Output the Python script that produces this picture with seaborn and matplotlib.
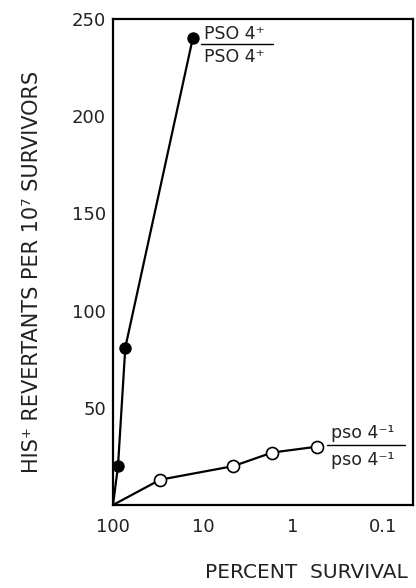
import numpy as np
import pandas as pd
import matplotlib
matplotlib.use("Agg")
import matplotlib.pyplot as plt
import seaborn as sns

# data
wt_survival = [100, 88, 73, 13]
wt_revertants = [0, 20, 81, 240]
mut_survival = [100, 30, 4.6, 1.7, 0.54]
mut_revertants = [0, 13, 20, 27, 30]
x_ticks = [100, 10, 1, 0.1]
x_ticklabels = ["100", "10", "1", "0.1"]
y_ticks = [50, 100, 150, 200, 250]

sns.set_style("white")
plt.rcParams['font.family'] = ['DejaVu Sans']

fig = plt.figure(figsize=(4.16, 5.88), dpi=100)
ax = fig.add_axes([113/416, 1-505/588, 300/416, 486/588])

wt = pd.DataFrame({"s": wt_survival, "r": wt_revertants})
mut = pd.DataFrame({"s": mut_survival, "r": mut_revertants})

sns.lineplot(data=wt, x="s", y="r", sort=False, color="black", lw=1.6, ax=ax)
sns.lineplot(data=mut, x="s", y="r", sort=False, color="black", lw=1.6, ax=ax)
sns.scatterplot(data=wt.iloc[1:], x="s", y="r", color="black", s=60,
                edgecolor="black", linewidth=1.2, zorder=5, ax=ax)
sns.scatterplot(data=mut.iloc[1:], x="s", y="r", color="white", s=75,
                edgecolor="black", linewidth=1.2, zorder=5, ax=ax)

ax.set_xscale("log")
ax.set_xlim(100, 100 / 10**(300/90))
ax.set_ylim(0, 250)
ax.set_xticks(x_ticks)
ax.set_xticklabels(x_ticklabels)
ax.minorticks_off()
ax.set_yticks(y_ticks)
ax.tick_params(direction="in", length=7, width=1.2, labelsize=13, pad=5,
               color="black", labelcolor="#222222")
ax.tick_params(axis="x", pad=9)
for sp in ax.spines.values():
    sp.set_color("black")
    sp.set_linewidth(1.6)
ax.set_xlabel("")
ax.set_ylabel("")

fig.text(408/416, 1-573/588, "PERCENT  SURVIVAL", ha="right", va="center",
         fontsize=14.5, color="#222222")
fig.text(32/416, 1-272/588, "HIS⁺ REVERTANTS PER 10⁷ SURVIVORS", rotation=90,
         ha="center", va="center", fontsize=15, color="#222222")

# fraction-style series labels
tr = fig.transFigure
fig.text(204/416, 1-34/588, "PSO 4⁺", ha="left", va="center", fontsize=12.5, color="#222222")
fig.text(204/416, 1-57/588, "PSO 4⁺", ha="left", va="center", fontsize=12.5, color="#222222")
fig.add_artist(plt.Line2D([201/416, 273/416], [1-44/588, 1-44/588], transform=tr,
                          color="black", lw=1.0))
fig.text(331/416, 1-433/588, "pso 4⁻¹", ha="left", va="center", fontsize=12.5, color="#222222")
fig.text(331/416, 1-460/588, "pso 4⁻¹", ha="left", va="center", fontsize=12.5, color="#222222")
fig.add_artist(plt.Line2D([327/416, 405/416], [1-445/588, 1-445/588], transform=tr,
                          color="black", lw=1.0))

fig.savefig("out.png", dpi=100)
